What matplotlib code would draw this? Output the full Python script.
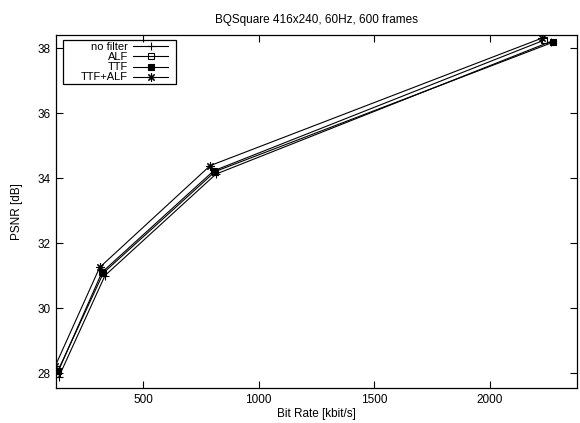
import matplotlib.pyplot as plt
from matplotlib.lines import Line2D

plt.rcParams['font.family'] = ['Liberation Sans', 'DejaVu Sans']

# %% data
series_names = ['no filter', 'ALF', 'TTF', 'TTF+ALF']
rate_no_filter = [135, 335, 815, 2265]
psnr_no_filter = [27.88, 31.00, 34.12, 38.20]
rate_alf = [128, 322, 805, 2235]
psnr_alf = [27.98, 31.10, 34.22, 38.24]
rate_ttf = [130, 328, 812, 2275]
psnr_ttf = [28.05, 31.08, 34.20, 38.18]
rate_ttf_alf = [120, 312, 790, 2225]
psnr_ttf_alf = [28.22, 31.25, 34.38, 38.30]

x_ticks = [500, 1000, 1500, 2000]
y_ticks = [28, 30, 32, 34, 36, 38]

# %% plot
fig = plt.figure(figsize=(5.8, 4.23), dpi=100)
ax = fig.add_axes([56 / 580, 1 - 388 / 423, (577 - 56) / 580, (388 - 35) / 423])

styles = [
    dict(marker='+', markersize=6, mfc='black'),
    dict(marker='s', markersize=4.5, mfc='none'),
    dict(marker='s', markersize=5, mfc='black'),
    dict(marker=(8, 2, 0), markersize=6, mfc='black'),
]
all_x = [rate_no_filter, rate_alf, rate_ttf, rate_ttf_alf]
all_y = [psnr_no_filter, psnr_alf, psnr_ttf, psnr_ttf_alf]

for xs, ys, st in zip(all_x, all_y, styles):
    ax.plot(xs, ys, color='black', linewidth=0.8, mec='black', mew=0.8, **st)

ax.set_xlim(123, 2378)
ax.set_ylim(27.54, 38.4)
ax.set_xticks(x_ticks)
ax.set_yticks(y_ticks)
ax.tick_params(direction='in', top=True, right=True, length=5, width=0.8,
               labelsize=8.5, pad=4)
for s in ax.spines.values():
    s.set_linewidth(0.9)

ax.set_title('BQSquare 416x240, 60Hz, 600 frames', fontsize=8.5, pad=9)
ax.set_xlabel('Bit Rate [kbit/s]', fontsize=8.5, labelpad=2)
ax.set_ylabel('PSNR [dB]', fontsize=8.5, labelpad=10)

# gnuplot-style key: right-aligned text, sample on the right
bw, bh = ax.get_position().width * 580, ax.get_position().height * 423
def fx(px):
    return (px - 56) / bw
def fy(py):
    return (388 - py) / bh

ax.add_patch(plt.Rectangle((fx(63), fy(84)), fx(176) - fx(63), fy(40) - fy(84),
                           transform=ax.transAxes, fill=False, lw=0.9, ec='black'))
row_y = [46.5, 56.5, 67, 77.5]
for name, st, ry in zip(series_names, styles, row_y):
    ax.text(fx(128), fy(ry), name, transform=ax.transAxes, ha='right', va='center',
            fontsize=8)
    ax.add_line(Line2D([fx(133), fx(168)], [fy(ry), fy(ry)], transform=ax.transAxes,
                       color='black', lw=0.8))
    ax.add_line(Line2D([fx(150.5)], [fy(ry)], transform=ax.transAxes, color='black',
                       mec='black', mew=0.8, **st))

fig.savefig('out.png', dpi=100)
